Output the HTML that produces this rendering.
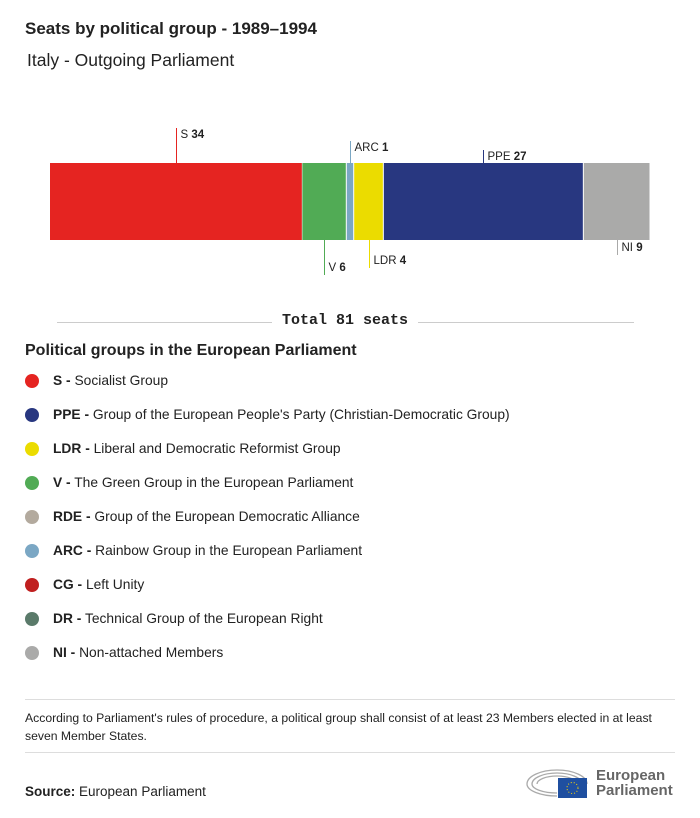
<!DOCTYPE html>
<html><head><meta charset="utf-8"><style>
body{margin:0;width:700px;height:818px;background:#fff;font-family:"Liberation Sans",sans-serif;color:#222;position:relative;overflow:hidden}
.abs{position:absolute}
.leg{position:absolute;left:25px;font-size:13.8px;color:#222}
.leg .dot{position:absolute;left:0;top:1px;width:14px;height:14px;border-radius:50%}
.leg span.t{position:absolute;left:28px;white-space:nowrap;top:0}
</style></head><body>
<div class="abs" style="left:25px;top:19px;font-size:17px;font-weight:bold">Seats by political group - 1989–1994</div>
<div class="abs" style="left:27px;top:50px;font-size:17.5px">Italy - Outgoing Parliament</div>
<svg class="abs" style="left:0;top:0" width="700" height="340" id="chart"></svg>
<div class="abs" style="left:0;top:312px;width:690px;text-align:center;font-family:'Liberation Mono',monospace;font-weight:bold;font-size:15px">Total 81 seats</div>
<div class="abs" style="left:57px;top:322px;width:215px;height:1px;background:#ccc"></div>
<div class="abs" style="left:418px;top:322px;width:216px;height:1px;background:#ccc"></div>
<div class="abs" style="left:25px;top:342px;font-size:16px;font-weight:bold">Political groups in the European Parliament</div>
<div id="legend"></div>
<div class="abs" style="left:25px;top:699px;width:650px;height:1px;background:#ddd"></div>
<div class="abs" style="left:25px;top:709px;width:640px;font-size:12.2px;line-height:18px">According to Parliament's rules of procedure, a political group shall consist of at least 23 Members elected in at least seven Member States.</div>
<div class="abs" style="left:25px;top:752px;width:650px;height:1px;background:#ddd"></div>
<div class="abs" style="left:25px;top:784px;font-size:13.5px"><b>Source:</b> European Parliament</div>
<div class="abs" style="left:525px;top:762px;width:150px;height:40px">
<svg width="70" height="38" style="position:absolute;left:0;top:0">
<g fill="none" stroke="#aaa" stroke-width="1.3"><path d="M2,22 A30,14 0 0 1 62,22"/><path d="M7,22 A25,11 0 0 1 57,22"/><path d="M12,22 A20,8 0 0 1 52,22"/><path d="M2,22 A30,12 0 0 0 32,34"/><path d="M7,22 A25,9 0 0 0 32,31"/></g>
<rect x="33" y="16" width="29" height="20" fill="#1f4fa0"/><circle cx="47.5" cy="26" r="5.5" fill="none" stroke="#ffd700" stroke-dasharray="1 2"/></svg>
<div style="position:absolute;left:71px;top:6px;font-size:15px;font-weight:bold;color:#666;line-height:15px">European<br>Parliament</div></div>
<script>
const groups=["S","V","ARC","LDR","PPE","NI"];
const seats=[34,6,1,4,27,9];
const colors=["#e52421","#51ab55","#7ba7c4","#ebdc00","#283780","#aaaaa9"];
// label placement (style): above/below and line length
const labelSide=["up","down","up","down","up","down"];
const labelLen=[35,35,22,28,13,15];
const svg=document.getElementById('chart');
const NS="http://www.w3.org/2000/svg";
const total=seats.reduce((a,b)=>a+b,0);
const x0=50,x1=650,yTop=163,yBot=240;
const xs=v=>x0+(x1-x0)*v/total;
let cum=0;
groups.forEach((g,i)=>{
  const a=xs(cum),b=xs(cum+seats[i]);cum+=seats[i];
  const r=document.createElementNS(NS,'rect');
  r.setAttribute('x',a+(i?0.5:0));r.setAttribute('y',yTop);r.setAttribute('width',Math.max(b-a-(i?1:0),0.5));r.setAttribute('height',yBot-yTop);r.setAttribute('fill',colors[i]);
  
  
  svg.appendChild(r);
  const cx=Math.round((a+b)/2)+0.5;
  const up=labelSide[i]==="up";
  const ya=up?yTop:yBot, yb=up?yTop-labelLen[i]:yBot+labelLen[i];
  const l=document.createElementNS(NS,'line');
  l.setAttribute('x1',cx);l.setAttribute('x2',cx);l.setAttribute('y1',ya);l.setAttribute('y2',yb);l.setAttribute('stroke',colors[i]);
  
  
  svg.appendChild(l);
  const t=document.createElementNS(NS,'text');
  t.setAttribute('x',cx+4);t.setAttribute('y',up?yb+10:yb-4);t.setAttribute('font-size','11.5');t.setAttribute('fill','#222');
  t.innerHTML=g+' <tspan font-weight="bold">'+seats[i]+'</tspan>';
  
  
  svg.appendChild(t);
});
const legAbbr=["S","PPE","LDR","V","RDE","ARC","CG","DR","NI"];
const legText=["Socialist Group","Group of the European People's Party (Christian-Democratic Group)","Liberal and Democratic Reformist Group","The Green Group in the European Parliament","Group of the European Democratic Alliance","Rainbow Group in the European Parliament","Left Unity","Technical Group of the European Right","Non-attached Members"];
const legColors=["#e52421","#283780","#ebdc00","#51ab55","#b3aa9e","#7ba7c4","#c01f1f","#5a7a6a","#aaaaa9"];
const leg=document.getElementById('legend');
legAbbr.forEach((a,i)=>{
  const d=document.createElement('div');d.className='leg';d.style.top=(373+i*34)+'px';
  d.innerHTML='<div class="dot" style="background:'+legColors[i]+'"></div><span class="t"><b>'+a+' -</b> '+legText[i]+'</span>';
  
  
  leg.appendChild(d);
});
</script>
</body></html>
